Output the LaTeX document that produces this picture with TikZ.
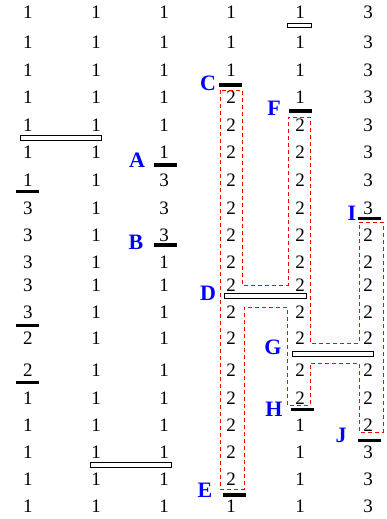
\documentclass[tikz,border=0pt]{standalone}
\usepackage{fontspec}
\setmainfont{Liberation Serif}
\begin{document}
\begin{tikzpicture}[x=1pt,y=-1pt]
\tikzset{
 num/.style={font=\fontsize{19}{19}\selectfont, inner sep=0pt, anchor=center},
 lab/.style={font=\fontsize{22}{22}\selectfont\bfseries, text=blue, inner sep=0pt},
 blackbar/.style={fill=black, draw=none, minimum width=23pt, minimum height=3.5pt, inner sep=0pt},
 openbar/.style={draw=black, fill=white, line width=0.8pt, minimum height=5.5pt, inner sep=0pt},
 redpath/.style={draw=red, dash pattern=on 4pt off 3pt, line width=0.8pt}
}
\useasboundingbox (0,0) rectangle (386,519);
\def\rowy{{12,42,70,97,125,152,180,208,235,262,285,312,338,370,398,425,452,479,506}}
\foreach \c/\x/\list in {
  1/28/{1,1,1,1,1,1,1,3,3,3,3,3,2,2,1,1,1,1,1},
  2/96/{1,1,1,1,1,1,1,1,1,1,1,1,1,1,1,1,1,1,1},
  3/164/{1,1,1,1,1,1,3,3,3,1,1,1,1,1,1,1,1,1,1},
  4/231/{1,1,1,2,2,2,2,2,2,2,2,2,2,2,2,2,2,2,1},
  5/300/{1,1,1,1,2,2,2,2,2,2,2,2,2,2,2,1,1,1,1},
  6/368/{3,3,3,3,3,3,3,3,2,2,2,2,2,2,2,2,3,3,3}}{
  \foreach \v [count=\r] in \list {
    \pgfmathsetmacro\yy{\rowy[\r-1]}
    \node[num] (n\c-\r) at (\x,\yy) {\v};
  }
}
% red dashed outline
\draw[redpath] (220,90) -- (220,489) -- (244,489) -- (244,307) -- (287,307) -- (287,405)
  -- (310,405) -- (310,363) -- (359,363) -- (359,432) -- (383,432) -- (383,222)
  -- (359,222) -- (359,343) -- (310,343) -- (310,117) -- (288,117) -- (288,285)
  -- (242,285) -- (242,90) -- cycle;
% open bars
\node[openbar, minimum width=81pt] (ob1) at (60.5,138) {};
\node[openbar, minimum width=81pt] (ob2) at (130.5,465) {};
\node[openbar, minimum width=24pt, minimum height=4pt] (ob3) at (299,25) {};
\node[openbar, minimum width=82pt] (barD) at (265,296) {};
\node[openbar, minimum width=81pt] (barG) at (332.5,354) {};
% black bars
\node[blackbar] (bb1) at (27.5,191.5) {};
\node[blackbar] (bb2) at (27.5,325.5) {};
\node[blackbar] (bb3) at (27.5,382.5) {};
\node[blackbar] (barA) at (165,165) {};
\node[blackbar] (barB) at (165,245) {};
\node[blackbar] (barC) at (230.5,85) {};
\node[blackbar] (barE) at (234,495) {};
\node[blackbar] (barF) at (300,111) {};
\node[blackbar] (barH) at (302,409.5) {};
\node[blackbar] (barI) at (369.5,218.5) {};
\node[blackbar] (barJ) at (369.5,440.5) {};
% labels
\node[lab] (lA) at (137,160) {A};
\node[lab] (lB) at (136,242) {B};
\node[lab] (lC) at (208,83) {C};
\node[lab] (lD) at (208,293) {D};
\node[lab] (lE) at (205,490) {E};
\node[lab] (lF) at (274,108) {F};
\node[lab] (lG) at (273,347) {G};
\node[lab] (lH) at (274,409) {H};
\node[lab] (lI) at (352,213) {I};
\node[lab] (lJ) at (341,435) {J};
\end{tikzpicture}
\end{document}
